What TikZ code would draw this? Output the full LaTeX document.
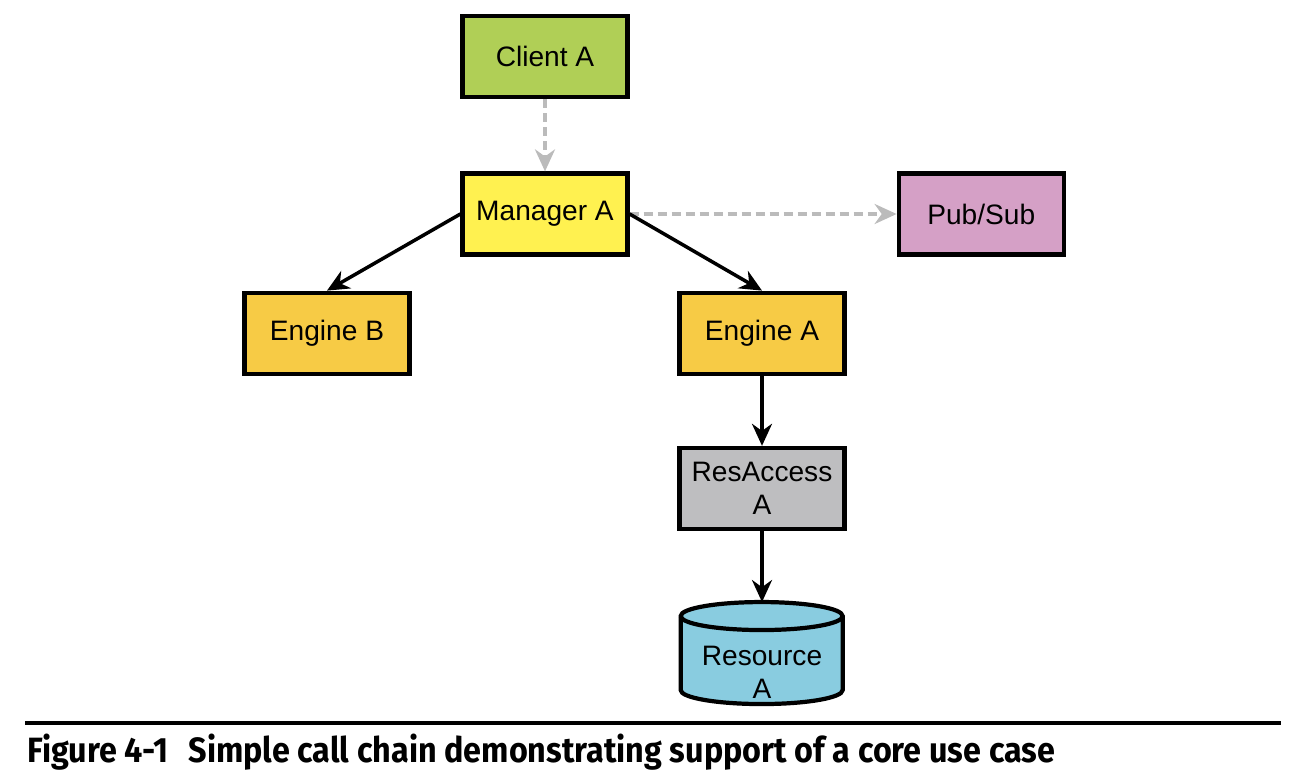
\documentclass[tikz,border=0pt]{standalone}
\usepackage{fontspec}
\setmainfont{Liberation Sans}
\newfontfamily\capfont[FakeStretch=0.92]{Fira Sans}
\usepackage{tikz}
\usetikzlibrary{arrows.meta,positioning}

\definecolor{clientgreen}{HTML}{B0CF56}
\definecolor{mgryellow}{HTML}{FFF150}
\definecolor{engorange}{HTML}{F7CB45}
\definecolor{pubpink}{HTML}{D5A0C6}
\definecolor{resgray}{HTML}{BEBEC0}
\definecolor{resblue}{HTML}{89CCE0}
\definecolor{dashgray}{HTML}{BBBBBB}

\tikzset{
  box/.style = {draw, line width=2.4pt, minimum width=3.3cm, minimum height=1.62cm,
    align=center, font=\fontsize{16}{19}\selectfont},
  call/.style = {-{Stealth[length=4.4mm,width=4mm]}, line width=2pt},
  async/.style = {-{Stealth[length=4.4mm,width=4mm]}, line width=2pt, dashgray,
    dash pattern=on 1.8mm off 1mm},
}

\begin{document}
\begin{tikzpicture}
    \useasboundingbox (0,0) rectangle (26.04,-15.56);

    \node[box, fill=mgryellow] (manager) at (10.9,-4.28) {Manager A};
    \node[box, fill=clientgreen, above = 1.44cm of manager] (client) {Client A};
    \node[box, fill=pubpink, right = 5.34cm of manager] (pubsub) {Pub/Sub};
    \node[box, fill=engorange, below = 0.68cm of manager, xshift=-4.36cm] (engB) {Engine B};
    \node[box, fill=engorange, below = 0.68cm of manager, xshift=4.34cm] (engA) {Engine A};
    \node[box, fill=resgray, below = 1.4cm of engA] (resacc) {ResAccess\\A};
    \node[minimum width=3.24cm, minimum height=2.04cm, inner sep=0pt, below = 1.42cm of resacc] (res) {};

    % the store, drawn as a cylinder
    \draw[line width=2.4pt, fill=resblue] ([yshift=-0.28cm]res.north west) -- ++(0,-1.48)
      arc[start angle=180, end angle=360, x radius=1.62cm, y radius=0.28cm] -- ++(0,1.48)
      arc[start angle=0, end angle=180, x radius=1.62cm, y radius=0.28cm] -- cycle;
    \draw[line width=2.4pt] ([yshift=-0.28cm]res.north west)
      arc[start angle=180, end angle=360, x radius=1.62cm, y radius=0.28cm];
    \node[align=center, font=\fontsize{16}{19}\selectfont] (reslabel) at ([yshift=-0.38cm]res.center) {Resource\\A};

    \draw[async] (client) to (manager);
    \draw[async] (manager.east) to (pubsub);
    \draw[call] (manager.west) to (engB.north);
    \draw[call] (manager.east) to (engA.north);
    \draw[call] (engA) to (resacc);
    \draw[call] (resacc) to (res.north);

    % caption
    \draw[line width=2pt] (0.5,-14.46) -- (25.62,-14.46);
    \node[anchor=base west, inner sep=0pt, font=\capfont\bfseries\fontsize{20}{24}\selectfont]
      (caption) at (0.54,-15.24) {Figure 4-1\hspace{0.35em} Simple call chain demonstrating support of a core use case};
  \end{tikzpicture}
\end{document}
